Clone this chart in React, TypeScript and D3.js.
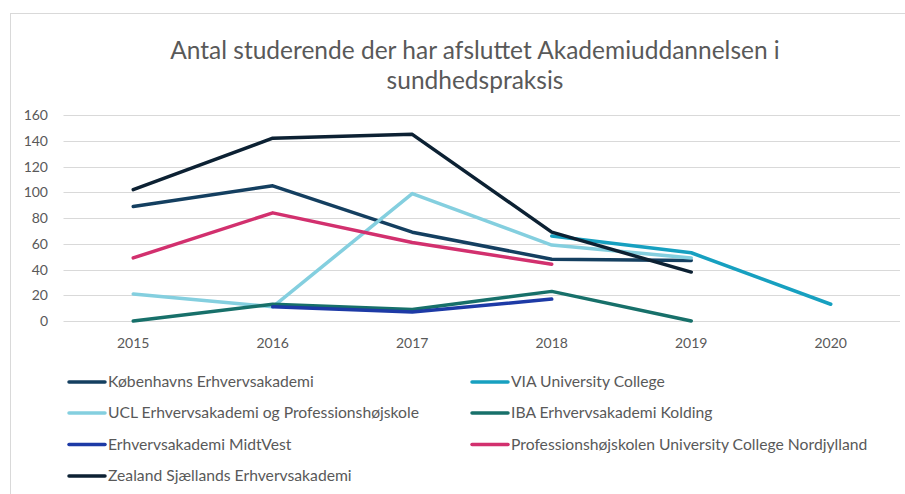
import React from "react";
import * as d3 from "d3";

const years = ["2015", "2016", "2017", "2018", "2019", "2020"];
const yTicks = [0, 20, 40, 60, 80, 100, 120, 140, 160];
const titleLines = ["Antal studerende der har afsluttet Akademiuddannelsen i", "sundhedspraksis"];

const seriesNames = [
  "Københavns Erhvervsakademi",
  "VIA University College",
  "UCL Erhvervsakademi og Professionshøjskole",
  "IBA Erhvervsakademi Kolding",
  "Erhvervsakademi MidtVest",
  "Professionshøjskolen University College Nordjylland",
  "Zealand Sjællands Erhvervsakademi",
];
const seriesColors = ["#143f60", "#17a0c0", "#84cfdf", "#17706a", "#1d3aa6", "#d2306e", "#0c2133"];

const kobenhavn = [89, 105, 69, 48, 47, null];
const via = [null, null, null, 66, 53, 13];
const ucl = [21, 11, 99, 59, 49, null];
const iba = [0, 13, 9, 23, 0, null];
const midtvest = [null, 11, 7, 17, null, null];
const nordjylland = [49, 84, 61, 44, null, null];
const zealand = [102, 142, 145, 69, 38, null];

const seriesValues = [kobenhavn, via, ucl, iba, midtvest, nordjylland, zealand];

export default function App() {
  const W = 905, H = 494;
  const x = d3.scaleBand().domain(years).range([63.5, 900.5]);
  const y = d3.scaleLinear().domain([0, 160]).range([321, 115]);
  const font = "Lato, 'Open Sans', sans-serif";
  const textColor = "#595959";

  const line = d3
    .line<number | null>()
    .defined((d) => d !== null)
    .x((_, i) => (x(years[i]) as number) + x.bandwidth() / 2)
    .y((d) => y(d as number));

  const legendX = [67, 470];
  const legendY = [382, 413, 444.5, 476];

  return (
    <svg width={W} height={H} style={{ position: "fixed", left: 0, top: 0, background: "#fff" }}>
      <rect x={0} y={0} width={W} height={H} fill="#fff" />
      <rect x={10.5} y={13.5} width={W + 20} height={H + 20} fill="#fff" stroke="#d9d9d9" strokeWidth={1} />
      {titleLines.map((t, i) => (
        <text key={i} x={475} y={59 + i * 30} textAnchor="middle" fontFamily={font} fontSize={24.5} fill={textColor}>
          {t}
        </text>
      ))}
      {yTicks.map((t) => (
        <g key={t}>
          <line x1={63.5} x2={900} y1={Math.round(y(t)) + 0.5} y2={Math.round(y(t)) + 0.5} stroke="#d9d9d9" strokeWidth={1} />
          <text x={48} y={y(t) + 5} textAnchor="end" fontFamily={font} fontSize={14} fill={textColor}>
            {t}
          </text>
        </g>
      ))}
      {years.map((yr) => (
        <text key={yr} x={(x(yr) as number) + x.bandwidth() / 2} y={348} textAnchor="middle" fontFamily={font} fontSize={14} fill={textColor}>
          {yr}
        </text>
      ))}
      {seriesValues.map((vals, i) => (
        <path key={i} d={line(vals) || ""} fill="none" stroke={seriesColors[i]} strokeWidth={3.5} strokeLinejoin="round" strokeLinecap="round" />
      ))}
      {seriesNames.map((name, i) => {
        const col = i % 2;
        const row = Math.floor(i / 2);
        const lx = legendX[col];
        const ly = legendY[row];
        return (
          <g key={name}>
            <line x1={lx + 2} x2={lx + 38} y1={ly} y2={ly} stroke={seriesColors[i]} strokeWidth={3.5} strokeLinecap="round" />
            <text x={lx + 41} y={ly + 5} fontFamily={font} fontSize={15.7} fill={textColor}>
              {name}
            </text>
          </g>
        );
      })}
    </svg>
  );
}
